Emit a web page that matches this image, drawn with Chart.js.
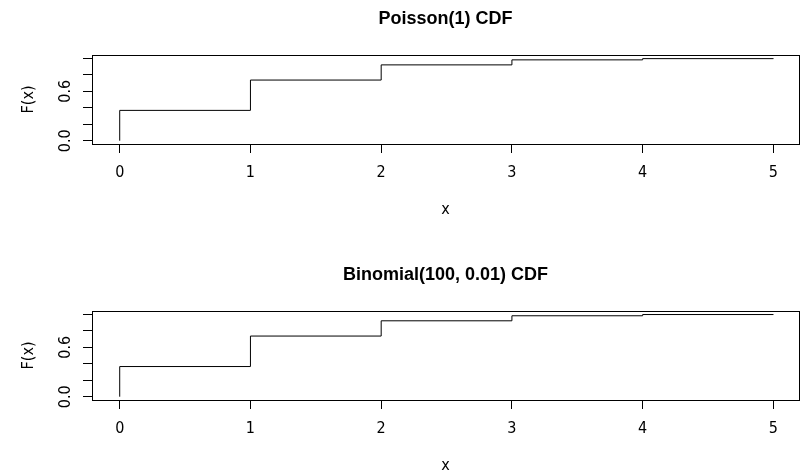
<!DOCTYPE html>
<html><head><meta charset="utf-8">
<script src="https://cdn.jsdelivr.net/npm/chart.js@4/dist/chart.umd.min.js"></script>
<style>
html,body{margin:0;padding:0;background:#fff;overflow:hidden;width:810px;height:472px;position:relative}
.panel{position:absolute;left:0;width:810px;height:270px}
</style></head><body>
<div class="panel" style="top:-40px"><canvas id="c1" width="810" height="270"></canvas></div>
<div class="panel" style="top:216px"><canvas id="c2" width="810" height="270"></canvas></div>
<script>
// ---- data ----
const xValues = [0, 0, 1, 2, 3, 4, 5];
const poissonCdf = [0, 0.368, 0.736, 0.920, 0.981, 0.996, 0.999];
const binomCdf = [0, 0.366, 0.736, 0.921, 0.982, 0.997, 0.999];
const xTicks = [0, 1, 2, 3, 4, 5];
const xTickLabels = ['0', '1', '2', '3', '4', '5'];
const yTicks = [0, 0.2, 0.4, 0.6, 0.8, 1.0];
const yLabelValues = [0, 0.6];
const yLabelTexts = ['0.0', '0.6'];
const titles = ['Poisson(1) CDF', 'Binomial(100, 0.01) CDF'];
const xTitle = 'x';
const yTitle = 'F(x)';

const NARROW = '"DejaVu Sans Condensed", "Liberation Sans Narrow", "Liberation Sans", Arial, sans-serif';
const SANS = '"Liberation Sans", Arial, sans-serif';

const boxPlugin = {
  id: 'rbox',
  afterDraw(chart) {
    const {ctx, chartArea: a, scales: {y}} = chart;
    ctx.save();
    ctx.strokeStyle = '#000';
    ctx.lineWidth = 1;
    const l = Math.floor(a.left) + 0.5, r = Math.floor(a.right) + 0.5;
    const t = Math.floor(a.top) + 0.5, b = Math.floor(a.bottom) + 0.5;
    ctx.strokeRect(l, t, r - l, b - t);
    ctx.font = '16px ' + NARROW;
    ctx.fillStyle = '#000';
    ctx.textAlign = 'center';
    ctx.textBaseline = 'alphabetic';
    yLabelValues.forEach((v, i) => {
      const py = y.getPixelForValue(v);
      ctx.save();
      ctx.translate(y.right - 22, py);
      ctx.rotate(-Math.PI / 2);
      ctx.fillText(yLabelTexts[i], 0, 0);
      ctx.restore();
    });
    ctx.restore();
  }
};

function makeChart(id, title, values) {
  return new Chart(document.getElementById(id), {
    type: 'line',
    data: {
      datasets: [{
        data: xValues.map((x, i) => ({x: x, y: values[i]})),
        stepped: 'before',
        borderColor: '#000',
        borderWidth: 1,
        pointRadius: 0,
        fill: false
      }]
    },
    options: {
      responsive: false,
      animation: false,
      devicePixelRatio: 1,
      layout: {padding: {top: 0, left: 0, right: 11, bottom: 0}},
      plugins: {
        legend: {display: false},
        tooltip: {enabled: false},
        title: {
          display: true, text: title, fullSize: false, color: '#000',
          font: {family: SANS, size: 18, weight: 'bold', lineHeight: 1},
          padding: {top: 50, bottom: 27}
        }
      },
      scales: {
        x: {
          type: 'linear', min: -0.212, max: 5.196,
          afterBuildTicks: s => { s.ticks = xTicks.map(v => ({value: v})); },
          afterFit: s => { s.height = 86; },
          border: {display: false},
          grid: {drawOnChartArea: false, drawTicks: true, tickLength: 9, color: '#000', lineWidth: 1},
          ticks: {
            autoSkip: false, maxRotation: 0, minRotation: 0, padding: 10, color: '#000',
            font: {family: NARROW, size: 16, lineHeight: 1.2},
            callback: v => { const i = xTicks.indexOf(v); return i >= 0 ? xTickLabels[i] : ''; }
          },
          title: {display: true, text: xTitle, color: '#000',
            font: {family: NARROW, size: 16, lineHeight: 1}, padding: {top: 0, bottom: 12.5}}
        },
        y: {
          type: 'linear', min: -0.04, max: 1.04,
          afterBuildTicks: s => { s.ticks = yTicks.map(v => ({value: v})); },
          afterFit: s => { s.width = 92; },
          border: {display: false},
          grid: {drawOnChartArea: false, drawTicks: true, tickLength: 9, color: '#000', lineWidth: 1},
          ticks: {autoSkip: false, color: 'rgba(0,0,0,0)', callback: () => ' ', font: {family: NARROW, size: 16}},
          title: {display: true, text: yTitle, color: '#000',
            font: {family: NARROW, size: 16, lineHeight: 1}, padding: {top: 20.5, bottom: 0}}
        }
      }
    },
    plugins: [boxPlugin]
  });
}

makeChart('c1', titles[0], poissonCdf);
makeChart('c2', titles[1], binomCdf);
</script>
</body></html>
